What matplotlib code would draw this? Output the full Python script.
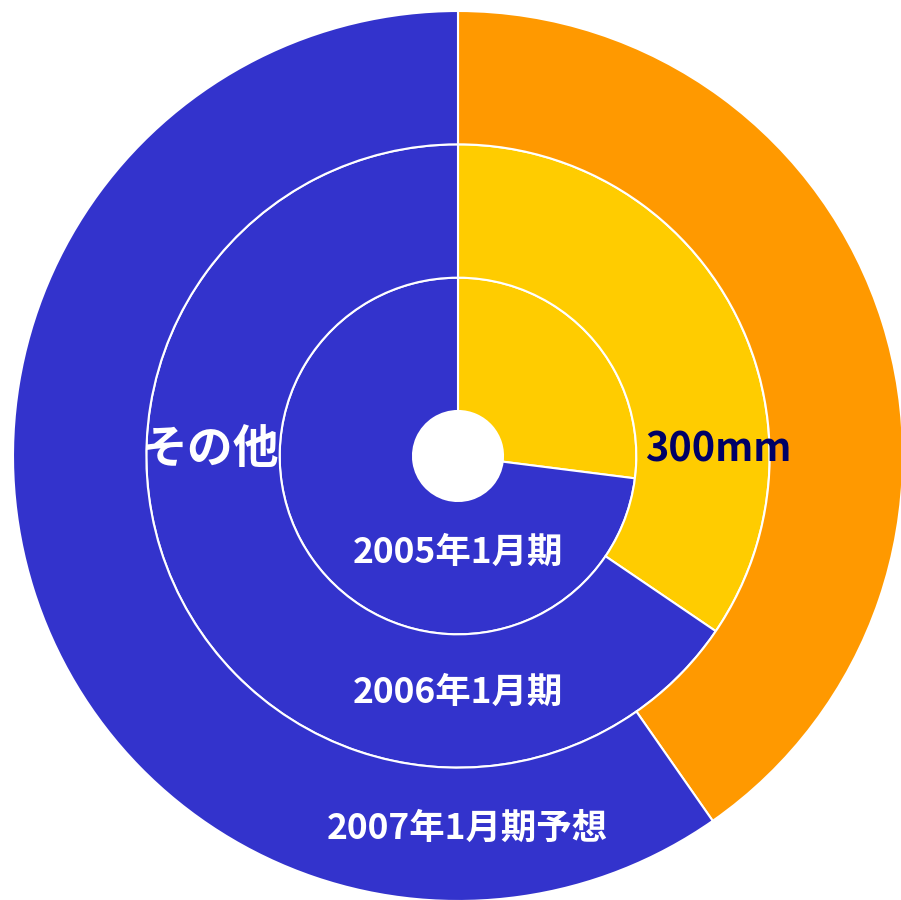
import matplotlib
matplotlib.use("Agg")
import matplotlib.pyplot as plt

plt.rcParams['font.family'] = ['Noto Sans CJK JP', 'DejaVu Sans']

# Data (share of 300mm vs others, %)
rings = ["2005年1月期", "2006年1月期", "2007年1月期予想"]
share_300mm = [27.0, 34.5, 40.3]
share_other = [73.0, 65.5, 59.7]
categories = ["300mm", "その他"]

blue = "#3333CC"
ring_colors = [["#FFCC00", blue], ["#FFCC00", blue], ["#FF9900", blue]]

W, H = 901, 900
fig = plt.figure(figsize=(W / 100, H / 100), dpi=100)
ax = fig.add_axes([0, 0, 1, 1])

cx, cy = 458, H - 456
hole = 45
width = (445 - hole) / 3.0

for i, name in enumerate(rings):
    r = hole + width * (i + 1)
    ax.pie([share_300mm[i], share_other[i]], colors=ring_colors[i],
           startangle=90, counterclock=False, radius=r, center=(cx, cy),
           wedgeprops=dict(width=width, edgecolor="white", linewidth=1.5))

ax.set_xlim(0, W)
ax.set_ylim(0, H)
ax.set_aspect('auto')
ax.axis('off')

label_y = [H - 552, H - 692, H - 828]
label_x = [458, 458, 467]
for name, x, y in zip(rings, label_x, label_y):
    ax.text(x, y, name, color="white", fontsize=25.5, fontweight="bold",
            ha="center", va="center")

ax.text(211, H - 450, categories[1], color="white", fontsize=33,
        fontweight="bold", ha="center", va="center")
ax.text(718, H - 450, categories[0], color="#000066", fontsize=28.5,
        fontweight="bold", ha="center", va="center")

fig.savefig("out.png", dpi=100)
